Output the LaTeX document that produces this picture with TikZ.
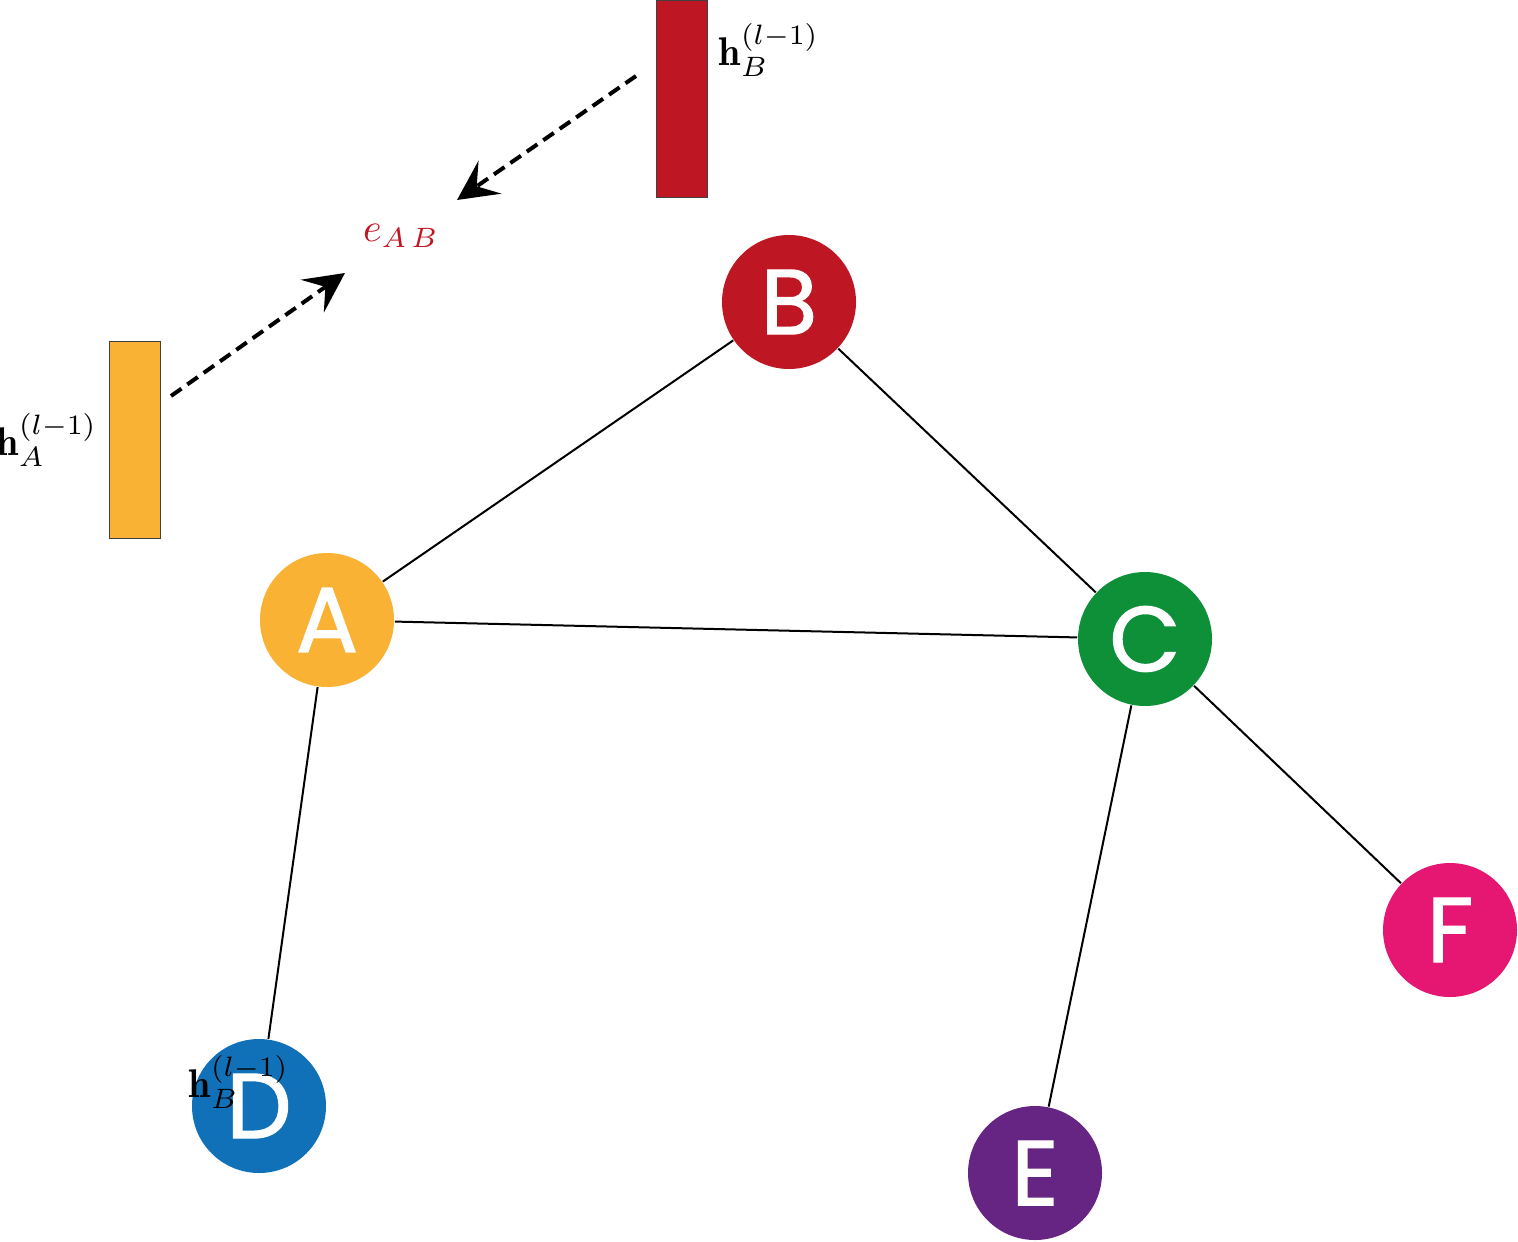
\documentclass[tikz,border=0pt]{standalone}
\usepackage{fontspec}
\usepackage{amsmath}
\newfontfamily\nodefont[FakeBold=1.4]{Poppins}
\usetikzlibrary{arrows.meta}
\definecolor{cA}{RGB}{249,178,52}
\definecolor{cB}{RGB}{190,22,34}
\definecolor{cC}{RGB}{14,144,56}
\definecolor{cD}{RGB}{16,113,184}
\definecolor{cE}{RGB}{102,36,131}
\definecolor{cF}{RGB}{230,23,115}
\tikzset{
  gnode/.style={circle, minimum size=33.5pt, inner sep=0pt, text=white,
    font=\nodefont\fontsize{23}{23}\selectfont},
  vecbox/.style={draw=black!75, line width=0.25pt, minimum width=12.75pt,
    minimum height=49.25pt, inner sep=0pt},
  edge/.style={line width=0.5pt, black},
  msg/.style={line width=1pt, dash pattern=on 3.2pt off 1.8pt,
    -{Stealth[length=10pt,width=10pt,inset=4pt]}},
}
\begin{document}
\begin{tikzpicture}[x=0.25pt,y=-0.25pt]
\useasboundingbox (0,0) rectangle (1518,1241);
\node[gnode, fill=cA] (A) at (327,620) {A};
\node[gnode, fill=cB] (B) at (789,302) {B};
\node[gnode, fill=cC] (C) at (1145,639) {C};
\node[gnode, fill=cD] (D) at (259,1106) {D};
\node[gnode, fill=cE] (E) at (1035,1173) {E};
\node[gnode, fill=cF] (F) at (1450,930) {F};
\draw[edge] (A) -- (B);
\draw[edge] (B) -- (C);
\draw[edge] (A) -- (C);
\draw[edge] (A) -- (D);
\draw[edge] (C) -- (E);
\draw[edge] (C) -- (F);
\node[vecbox, fill=cA] (hA) at (134.5,439.5) {};
\node[vecbox, fill=cB] (hB) at (681.5,99.5) {};
\node (lA) at (47,440) {$\mathbf{h}_A^{(l-1)}$};
\node (lB) at (769,50) {$\mathbf{h}_B^{(l-1)}$};
\node (lD) at (239,1082) {$\mathbf{h}_B^{(l-1)}$};
\node[text=cB] (e) at (401,236) {$e_{A\,B}$};
\coordinate (s1) at (171,396);
\coordinate (t1) at (345,273);
\coordinate (s2) at (636,76);
\coordinate (t2) at (457,200);
\draw[msg] (s1) -- (t1);
\draw[msg] (s2) -- (t2);
\end{tikzpicture}
\end{document}
